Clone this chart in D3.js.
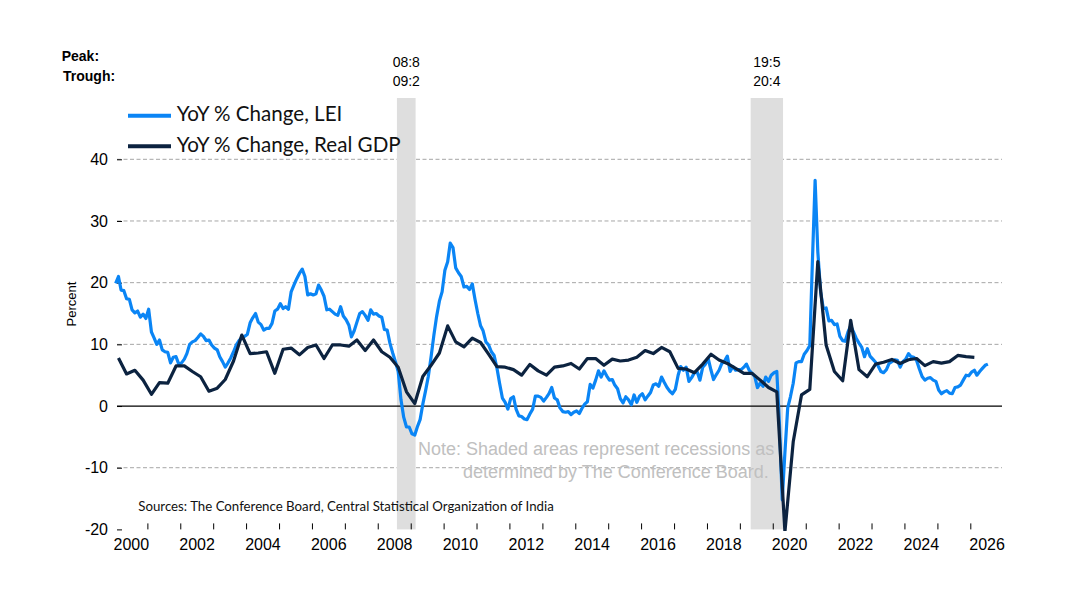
<!DOCTYPE html>
<html>
<head>
<meta charset="utf-8">
<script src="https://cdn.jsdelivr.net/npm/d3@7"></script>
<style>
  body { margin: 0; background: #fff; }
</style>
</head>
<body>
<div id="container"></div>
<script>
// LEI, YoY % change, monthly from Jan 2000
const lei = [
  19.9, 21.0, 18.8, 18.7, 17.4, 17.3, 15.6, 15.1, 15.4, 14.4, 14.9, 14.2,
  15.7, 12.0, 11.1, 10.0, 10.7, 9.1, 8.8, 8.7, 7.0, 7.9, 8.0, 6.8,
  7.0, 7.6, 8.5, 10.0, 10.4, 10.6, 11.1, 11.7, 11.3, 10.6, 10.7, 9.9,
  9.4, 9.1, 8.0, 7.2, 6.3, 7.0, 7.8, 8.8, 9.9, 10.6, 11.1, 11.3,
  11.6, 13.5, 14.3, 15.0, 13.6, 13.2, 12.3, 12.6, 12.6, 13.4, 15.4, 15.7,
  16.6, 15.8, 16.1, 15.7, 18.5, 19.6, 20.6, 21.5, 22.2, 21.0, 18.0, 18.2,
  18.0, 18.2, 19.6, 18.8, 17.8, 15.6, 15.7, 15.3, 14.9, 14.7, 16.1, 14.6,
  14.0, 13.1, 11.2, 12.2, 13.6, 15.0, 15.3, 14.7, 13.9, 15.6, 14.9, 15.0,
  14.6, 14.4, 12.4, 12.3, 10.2, 8.6, 7.2, 5.6, 1.0, -1.8, -3.4, -3.4,
  -4.5, -4.7, -3.4, -2.2, 0.3, 2.5, 4.8, 8.0, 11.5, 14.5, 17.0, 18.5,
  22.0, 23.4, 26.4, 25.7, 22.4, 21.6, 21.0, 19.3, 19.4, 18.9, 19.8, 17.3,
  15.0, 13.0, 12.2, 10.4, 9.9, 8.8, 8.2, 6.2, 3.6, 1.3, 0.6, -0.5,
  1.2, 1.5, -0.5, -1.6, -1.7, -2.1, -2.2, -1.3, -0.5, 1.6, 1.6, 1.4,
  0.8, 1.4, 2.0, 3.0, 1.3, 1.0, -0.3, -0.9, -1.0, -0.9, -1.4, -1.0,
  -0.8, -1.2, -0.4, 0.3, 0.7, 3.5, 2.9, 4.2, 5.7, 4.7, 5.7, 4.9,
  4.2, 4.3, 3.4, 2.8, 1.2, 0.5, 1.5, 1.0, 0.2, 1.8, 0.6, 1.6,
  2.0, 1.0, 1.6, 2.2, 3.4, 3.6, 3.2, 4.7, 3.8, 3.0, 2.4, 2.0,
  2.7, 5.0, 6.4, 5.8, 6.3, 4.0, 4.6, 5.4, 5.5, 4.2, 6.3, 6.8,
  7.7, 5.8, 4.3, 5.1, 5.8, 6.9, 7.3, 8.1, 5.6, 6.4, 5.8, 5.9,
  5.9, 6.3, 6.8, 5.8, 5.3, 4.8, 3.0, 3.7, 3.2, 4.7, 4.0, 5.0,
  5.4, 5.6, -2.8, -15.2, -7.5, -0.3, 1.5, 3.7, 7.0, 7.2, 7.2, 8.4,
  9.0, 9.8, 23.0, 36.6, 25.0, 18.5, 15.8, 15.9, 13.8, 13.9, 13.2, 13.3,
  11.3, 10.6, 10.5, 12.0, 13.0, 12.0, 11.0, 10.2, 9.5, 8.0, 9.3, 8.1,
  7.6, 7.1, 6.5, 5.6, 5.4, 5.9, 6.9, 7.2, 7.5, 7.4, 6.3, 7.2,
  7.6, 8.5, 8.0, 7.9, 7.4, 6.0, 4.8, 4.2, 4.5, 4.6, 4.2, 4.0,
  2.6, 2.0, 2.3, 2.5, 2.1, 2.0, 3.0, 3.1, 3.4, 4.2, 5.0, 4.9,
  5.5, 5.8, 5.0, 5.6, 6.1, 6.6, 6.8
];

// Real GDP, YoY % change, quarterly from 2000 Q1
const gdp = [
  7.8, 5.2, 5.8, 4.2,
  1.9, 3.8, 3.7, 6.5,
  6.5, 5.6, 4.75, 2.4,
  2.9, 4.3, 7.3, 11.5,
  8.5, 8.6, 8.8, 5.3,
  9.2, 9.4, 8.3, 9.5,
  9.9, 7.7, 9.9, 9.9,
  9.7, 10.7, 9.0, 10.7,
  8.8, 7.9, 6.3, 2.3,
  0.4, 4.8, 6.6, 8.6,
  13.0, 10.4, 9.6, 11.0,
  10.3, 8.4, 6.4, 6.3,
  5.9, 5.0, 6.75, 5.7,
  5.0, 6.3, 6.5, 6.9,
  6.0, 7.7, 7.7, 6.6,
  7.6, 7.3, 7.45, 7.9,
  9.0, 8.5, 9.5, 8.8,
  6.1, 6.0, 5.4, 6.8,
  8.4, 7.45, 6.9, 6.1,
  5.3, 5.3, 4.2, 3.0,
  2.3, -20.4, -5.8, 1.8,
  2.7, 23.4, 9.9, 5.6,
  4.1, 13.9, 5.9, 4.75,
  6.8, 7.1, 7.55, 6.9,
  7.5, 7.7, 6.55, 7.2,
  6.95, 7.2, 8.2, 8.0,
  7.9
];

// recessions: peak and trough month (year, month 1-12)
const recessions = [
  { peak: "08:8", trough: "09:2", from: [2008, 8], to: [2009, 2] },
  { peak: "19:5", trough: "20:4", from: [2019, 5], to: [2020, 4] }
];

const yTicks = [-20, -10, 0, 10, 20, 30, 40];
const xLabels = [2000, 2002, 2004, 2006, 2008, 2010, 2012, 2014, 2016, 2018, 2020, 2022, 2024, 2026];
const xTickYears = d3.range(2001, 2027);

const seriesNames = ["YoY % Change, LEI", "YoY % Change, Real GDP"];
const colors = ["#0a85f5", "#0c2340"];

const noteLines = ["Note: Shaded areas represent recessions as", "determined by The Conference Board."];
const sourceText = "Sources: The Conference Board, Central Statistical Organization of India";

const arial = "'Liberation Sans', Arial, sans-serif";
const calibri = "Lato, 'Open Sans', sans-serif";

function draw() {
  const width = 1080, height = 604;

  const svg = d3.select("#container").append("svg")
    .attr("width", width)
    .attr("height", height)
    .style("font-family", arial);

  const x = d3.scaleTime()
    .domain([new Date(2000, 0, 1), new Date(2027, 0, 1)])
    .range([114.4, 1003.2]);

  const y = d3.scaleLinear()
    .domain([-20, 40])
    .range([529.4, 159.3]);

  const leiData = lei.map((v, i) => ({ date: new Date(2000, i, 15), value: v }));
  const gdpData = gdp.map((v, i) => ({ date: new Date(2000, i * 3 + 1, 15), value: v }));

  // dashed gridlines
  svg.append("g").attr("class", "grid")
    .selectAll("line")
    .data(yTicks.filter(d => d != 0 && d != -20))
    .enter().append("line")
    .attr("x1", 117).attr("x2", 1002)
    .attr("y1", d => y(d)).attr("y2", d => y(d))
    .attr("stroke", "#a6a6a6")
    .attr("stroke-width", 1)
    .attr("stroke-dasharray", "4,2.5");

  // recession bands
  const bands = svg.append("g").attr("class", "recessions");
  const bandStart = d => x(new Date(d.from[0], d.from[1] - 1, 1));
  const bandEnd = d => x(new Date(d.to[0], d.to[1] - 1, 24));

  bands.selectAll("rect")
    .data(recessions)
    .enter().append("rect")
    .attr("x", bandStart)
    .attr("width", d => bandEnd(d) - bandStart(d))
    .attr("y", 98)
    .attr("height", y(-20) - 98)
    .attr("fill", "#dedede");

  const bandMid = d => (bandStart(d) + bandEnd(d)) / 2;

  bands.selectAll("text.peak")
    .data(recessions)
    .enter().append("text")
    .attr("class", "peak")
    .attr("x", bandMid).attr("y", 67)
    .attr("text-anchor", "middle")
    .attr("font-size", 14)
    .text(d => d.peak);

  bands.selectAll("text.trough")
    .data(recessions)
    .enter().append("text")
    .attr("class", "trough")
    .attr("x", bandMid).attr("y", 86)
    .attr("text-anchor", "middle")
    .attr("font-size", 14)
    .text(d => d.trough);

  svg.append("text").attr("x", 61.7).attr("y", 61)
    .attr("font-size", 14).attr("font-weight", "bold").text("Peak:");
  svg.append("text").attr("x", 63).attr("y", 81)
    .attr("font-size", 14).attr("font-weight", "bold").text("Trough:");

  // note
  svg.append("g").selectAll("text")
    .data(noteLines)
    .enter().append("text")
    .attr("x", (d, i) => i == 0 ? 418 : 463)
    .attr("y", (d, i) => 455 + i * 23)
    .attr("font-size", 18)
    .attr("fill", "#c0c0c0")
    .text(d => d);

  // zero line
  svg.append("line")
    .attr("x1", 117).attr("x2", 1002)
    .attr("y1", y(0)).attr("y2", y(0))
    .attr("stroke", "#000")
    .attr("stroke-width", 1.3);

  // y axis
  const yAxis = svg.append("g")
    .attr("transform", "translate(122,0)")
    .call(d3.axisLeft(y).tickValues(yTicks).tickSize(5).tickPadding(9).tickFormat(d => String(d)));
  yAxis.select(".domain").remove();
  yAxis.attr("font-family", null);
  yAxis.selectAll("text").attr("font-size", 16).attr("fill", "#000");
  yAxis.selectAll("line").attr("stroke", "#000");

  // x axis tick marks
  const xTicks = svg.append("g")
    .attr("transform", "translate(0," + y(-20) + ")")
    .call(d3.axisBottom(x).tickValues(xTickYears.map(yr => new Date(yr, 0, 1))).tickSize(-6).tickFormat(""));
  xTicks.select(".domain").remove();
  xTicks.selectAll("line").attr("stroke", "#000");

  // x labels, centred on the year
  const xLab = svg.append("g")
    .attr("transform", "translate(0," + y(-20) + ")")
    .call(d3.axisBottom(x).tickValues(xLabels.map(yr => new Date(yr, 6, 1))).tickSize(0).tickPadding(9.2).tickFormat(d3.timeFormat("%Y")));
  xLab.select(".domain").remove();
  xLab.attr("font-family", null);
  xLab.selectAll("text").attr("font-size", 16).attr("fill", "#000");

  // y label
  svg.append("text")
    .attr("transform", "translate(76,304) rotate(-90)")
    .attr("text-anchor", "middle")
    .attr("font-size", 13)
    .text("Percent");

  // series
  svg.append("clipPath").attr("id", "plotclip")
    .append("rect").attr("x", 100).attr("y", 100).attr("width", 920).attr("height", y(-20) - 100 + 1.5);

  const line = d3.line()
    .x(d => x(d.date))
    .y(d => y(d.value));

  const plot = svg.append("g").attr("clip-path", "url(#plotclip)");

  plot.append("path")
    .datum(leiData)
    .attr("d", line)
    .attr("fill", "none")
    .attr("stroke", colors[0])
    .attr("stroke-width", 3.2)
    .attr("stroke-linejoin", "round");

  plot.append("path")
    .datum(gdpData)
    .attr("d", line)
    .attr("fill", "none")
    .attr("stroke", colors[1])
    .attr("stroke-width", 3.2)
    .attr("stroke-linejoin", "round");

  // legend
  const legend = svg.append("g").attr("class", "legend");
  const legendItem = legend.selectAll("g")
    .data(seriesNames)
    .enter().append("g")
    .attr("transform", (d, i) => "translate(0," + (115.7 + i * 30.5) + ")");

  legendItem.append("line")
    .attr("x1", 128).attr("x2", 171)
    .attr("stroke", (d, i) => colors[i])
    .attr("stroke-width", 4);

  legendItem.append("text")
    .attr("x", 176.7)
    .attr("y", 5.5)
    .style("font-family", calibri)
    .attr("font-size", 20.6)
    .attr("fill", "#111")
    .text(d => d);

  // sources
  svg.append("text")
    .attr("x", 138.3).attr("y", 510.7)
    .style("font-family", calibri)
    .attr("font-size", 13.25)
    .attr("fill", "#111")
    .text(sourceText);
}

window.addEventListener("load", function () {
  draw();
});
</script>
</body>
</html>
